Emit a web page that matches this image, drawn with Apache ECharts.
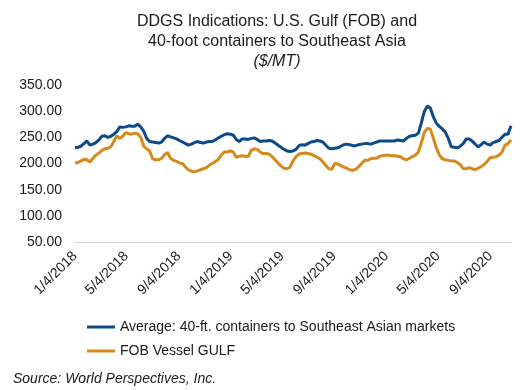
<!DOCTYPE html>
<html>
<head>
<meta charset="utf-8">
<script src="https://cdn.jsdelivr.net/npm/echarts@6/dist/echarts.min.js"></script>
<style>
html,body{margin:0;padding:0;background:#fff;}
#chart{width:528px;height:390px;}
</style>
</head>
<body>
<div id="chart"></div>
<script>
// Weekly observations starting 1/4/2018 (one value per week)
var startDate = '2018-01-04';
var tickLabels = ['1/4/2018','5/4/2018','9/4/2018','1/4/2019','5/4/2019','9/4/2019','1/4/2020','5/4/2020','9/4/2020'];
var containerSEA = [
230,231,233,238,243,235,237,240,245,252,253,250,252,256,261,270,269,270,272,271,
271,275,270,262,248,242,241,240,239,241,248,253,251,249,247,244,241,238,235,237,
240,242,240,239,241,242,242,245,249,252,255,257,256,254,246,242,247,247,246,248,
249,246,242,243,243,244,243,239,235,231,227,224,223,224,227,234,236,235,238,241,
242,244,243,241,235,229,228,229,230,233,236,237,236,234,234,236,237,238,238,237,
239,241,243,243,243,243,243,243,245,244,243,248,252,253,254,258,278,300,310,306,
289,277,271,266,260,248,232,231,230,233,238,247,247,243,237,232,236,241,237,235,
240,242,244,250,256,256,272
];
var fobGulf = [
201,202,205,208,207,203,210,216,220,225,228,229,232,242,253,248,252,259,257,256,
258,257,250,233,228,224,209,207,207,210,217,221,210,206,204,201,200,193,188,185,
184,186,188,190,192,197,200,204,208,216,222,222,224,222,212,214,215,214,213,225,
228,227,222,219,219,218,213,207,201,195,191,190,193,205,213,218,219,220,219,218,
215,212,209,203,196,190,189,200,199,196,193,191,188,187,189,194,200,206,206,209,
210,210,214,215,216,216,215,215,214,213,209,207,210,213,216,222,240,260,267,266,
248,230,216,209,207,206,205,205,202,198,190,190,192,190,188,191,194,198,204,211,
212,213,216,222,235,238,245
];

// Build daily category axis and place weekly values on it
function fmt(d){return (d.getUTCMonth()+1)+'/'+d.getUTCDate()+'/'+d.getUTCFullYear();}
var s = new Date(startDate+'T00:00:00Z');
var nDays = (containerSEA.length-1)*7;
var cats = [], blue = [], orange = [];
for (var i=0;i<=nDays;i++){
  var d = new Date(s.getTime()+i*86400000);
  cats.push(fmt(d));
  if (i%7===0){ blue.push(containerSEA[i/7]); orange.push(fobGulf[i/7]); }
  else { blue.push(null); orange.push(null); }
}
var FONT = 'Liberation Sans, Arial, sans-serif';
var chart = echarts.init(document.getElementById('chart'), null, {renderer:'canvas'});
chart.setOption({
  animation:false,
  backgroundColor:'#ffffff',
  title:[
    {text:'DDGS Indications: U.S. Gulf (FOB) and\n40-foot containers to Southeast Asia', left:272, top:7, textAlign:'center',
     textStyle:{fontFamily:FONT,fontSize:16,fontWeight:'normal',color:'#1a1a1a',lineHeight:20}},
    {text:'($/MT)', left:272, top:47, textAlign:'center',
     textStyle:{fontFamily:FONT,fontSize:16,fontWeight:'normal',fontStyle:'italic',color:'#1a1a1a',lineHeight:20}},
    {text:'Source: World Perspectives, Inc.', left:8, top:367,
     textStyle:{fontFamily:FONT,fontSize:14,fontWeight:'normal',fontStyle:'italic',color:'#1a1a1a'}}
  ],
  grid:{left:75,right:17,top:85,bottom:148,containLabel:false},
  legend:{
    orient:'vertical', left:82, top:314, itemWidth:28, itemHeight:3, itemGap:8, icon:'rect',
    textStyle:{fontFamily:FONT,fontSize:14,color:'#1a1a1a',lineHeight:16},
    data:['Average: 40-ft. containers to Southeast Asian markets','FOB Vessel GULF']
  },
  xAxis:{
    type:'category', data:cats, boundaryGap:false,
    axisLine:{show:true,lineStyle:{color:'#d9d9d9',width:1}},
    axisTick:{show:false},
    splitLine:{show:false},
    axisLabel:{
      rotate:45, margin:12, fontFamily:FONT, fontSize:14, color:'#1a1a1a',
      interval:function(idx,val){return tickLabels.indexOf(val)>=0;}
    }
  },
  yAxis:{
    type:'value', min:50, max:350, interval:50,
    axisLine:{show:false}, axisTick:{show:false}, splitLine:{show:false},
    axisLabel:{fontFamily:FONT,fontSize:14,color:'#1a1a1a',margin:13,
      formatter:function(v){return v.toFixed(2);}}
  },
  series:[
    {name:'Average: 40-ft. containers to Southeast Asian markets', type:'line', data:blue, connectNulls:true,
     showSymbol:false, symbol:'none', lineStyle:{color:'#0b4a8b',width:3}, itemStyle:{color:'#0b4a8b'}, z:3},
    {name:'FOB Vessel GULF', type:'line', data:orange, connectNulls:true,
     showSymbol:false, symbol:'none', lineStyle:{color:'#d68a1e',width:3}, itemStyle:{color:'#d68a1e'}, z:2}
  ]
});
</script>
</body>
</html>
